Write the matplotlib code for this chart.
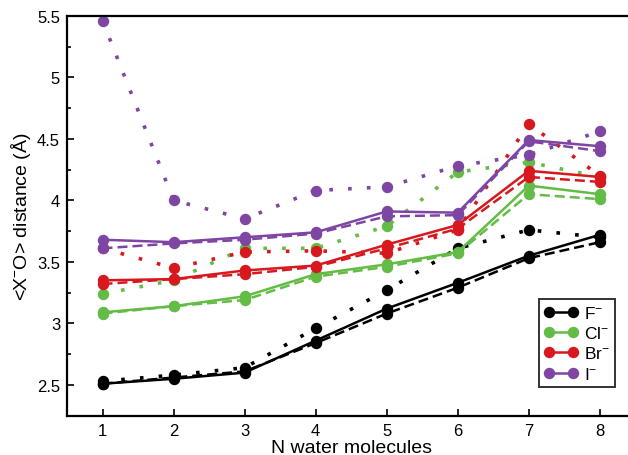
import matplotlib
matplotlib.use('Agg')
import matplotlib.pyplot as plt

plt.rcParams['font.family'] = ['Liberation Sans', 'DejaVu Sans']
plt.rcParams['mathtext.fontset'] = 'custom'
plt.rcParams['mathtext.rm'] = 'Liberation Sans'
plt.rcParams['mathtext.it'] = 'Liberation Sans:italic'

n_water = [1, 2, 3, 4, 5, 6, 7, 8]

# <X-O> distances (Angstrom): solid, dashed and dotted series per ion
f_solid = [2.51, 2.55, 2.60, 2.86, 3.12, 3.33, 3.55, 3.72]
f_dash = [2.51, 2.56, 2.61, 2.84, 3.08, 3.29, 3.53, 3.66]
f_dot = [2.53, 2.58, 2.64, 2.96, 3.27, 3.61, 3.76, 3.70]

cl_solid = [3.09, 3.14, 3.22, 3.40, 3.48, 3.58, 4.12, 4.05]
cl_dash = [3.08, 3.14, 3.19, 3.38, 3.46, 3.57, 4.05, 4.01]
cl_dot = [3.24, 3.35, 3.61, 3.61, 3.79, 4.23, 4.31, 4.19]

br_solid = [3.35, 3.36, 3.43, 3.47, 3.64, 3.80, 4.24, 4.19]
br_dash = [3.32, 3.36, 3.40, 3.46, 3.61, 3.77, 4.19, 4.15]
br_dot = [3.61, 3.45, 3.58, 3.59, 3.57, 3.76, 4.62, 4.20]

i_solid = [3.68, 3.66, 3.70, 3.74, 3.91, 3.90, 4.49, 4.44]
i_dash = [3.61, 3.65, 3.68, 3.73, 3.87, 3.88, 4.48, 4.40]
i_dot = [5.46, 4.00, 3.85, 4.08, 4.11, 4.28, 4.37, 4.56]

ions = ['F$^{-}$', 'Cl$^{-}$', 'Br$^{-}$', 'I$^{-}$']
colors = ['black', '#63bc46', '#d7191f', '#7f45a3']
series = [
    (f_solid, f_dash, f_dot),
    (cl_solid, cl_dash, cl_dot),
    (br_solid, br_dash, br_dot),
    (i_solid, i_dash, i_dot),
]

fig = plt.figure(figsize=(6.28, 4.56), dpi=100)
ax = fig.add_axes([0.1067, 0.0862, 0.905, 0.877])

ms = 7.2
for name, col, (solid, dash, dot) in zip(ions, colors, series):
    ax.plot(n_water, dot, color=col, lw=2.6, ls=(0, (1, 4.2)),
            marker='o', ms=ms, mec=col)
    ax.plot(n_water, dash, color=col, lw=1.8, ls=(0, (4, 2)),
            marker='o', ms=ms, mec=col)
    ax.plot(n_water, solid, color=col, lw=1.8, ls='-',
            marker='o', ms=ms, mec=col, label=name)

ax.set_xlim(0.5, 8.5)
ax.set_ylim(2.25, 5.5)
ax.set_xticks(n_water)
ax.set_yticks([2.5, 3, 3.5, 4, 4.5, 5, 5.5])
ax.set_yticklabels(['2.5', '3', '3.5', '4', '4.5', '5', '5.5'])
ax.set_yticks([2.25 + 0.5 * k for k in range(7)], minor=True)
ax.tick_params(which='both', direction='in', labelsize=12, width=1.2)
ax.tick_params(which='major', length=5, pad=5)
ax.tick_params(which='minor', length=3)
for sp in ax.spines.values():
    sp.set_linewidth(1.6)

ax.set_xlabel('N water molecules', fontsize=14, labelpad=1)
ax.set_ylabel('<X$^{-}$O> distance (Å)', fontsize=14, labelpad=3)

leg = ax.legend(loc='lower right', bbox_to_anchor=(0.964, 0.072), numpoints=2,
                fontsize=12.5, handlelength=2.0, handletextpad=0.3,
                borderpad=0.3, labelspacing=0.25, borderaxespad=0,
                fancybox=False)
leg.get_frame().set_edgecolor('black')
leg.get_frame().set_linewidth(1.4)

fig.savefig('out.png', dpi=100)
